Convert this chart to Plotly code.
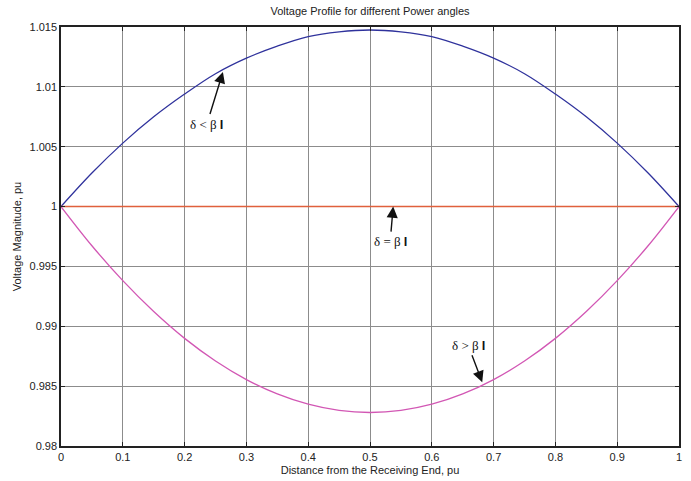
import plotly.graph_objects as go

distance = [0.0, 0.05, 0.1, 0.15, 0.2, 0.25, 0.3, 0.35, 0.4, 0.45, 0.5,
            0.55, 0.6, 0.65, 0.7, 0.75, 0.8, 0.85, 0.9, 0.95, 1.0]
v_less = [1.0, 1.0028, 1.0053, 1.0075, 1.0094, 1.0111, 1.0124, 1.0134, 1.0142, 1.0146, 1.01475,
          1.0146, 1.0142, 1.0134, 1.0124, 1.0111, 1.0094, 1.0075, 1.0053, 1.0028, 1.0]
v_equal = [1.0] * 21
v_greater = [1.0, 0.99673, 0.99381, 0.99123, 0.98899, 0.9871, 0.98555, 0.98435, 0.98349, 0.98297, 0.9828,
             0.98297, 0.98349, 0.98435, 0.98555, 0.9871, 0.98899, 0.99123, 0.99381, 0.99673, 1.0]

x_ticks = [0, 0.1, 0.2, 0.3, 0.4, 0.5, 0.6, 0.7, 0.8, 0.9, 1]
x_labels = ["0", "0.1", "0.2", "0.3", "0.4", "0.5", "0.6", "0.7", "0.8", "0.9", "1"]
y_ticks = [0.98, 0.985, 0.99, 0.995, 1.0, 1.005, 1.01, 1.015]
y_labels = ["0.98", "0.985", "0.99", "0.995", "1", "1.005", "1.01", "1.015"]

font = "Liberation Sans, Arial, sans-serif"
serif = "Liberation Serif, Times New Roman, serif"

fig = go.Figure()
fig.add_trace(go.Scatter(x=distance, y=v_less, mode="lines", line=dict(color="#2f329c", width=1.3, shape="spline")))
fig.add_trace(go.Scatter(x=distance, y=v_equal, mode="lines", line=dict(color="#e0603c", width=1.5)))
fig.add_trace(go.Scatter(x=distance, y=v_greater, mode="lines", line=dict(color="#d257b4", width=1.3, shape="spline")))

bold_l = "<span style='font-family:Liberation Sans'><b>l</b></span>"
ann = [
    ("δ &lt; β " + bold_l, 0.262, 1.01124, -16, 52),
    ("δ = β " + bold_l, 0.5375, 1.0, -3, 35),
    ("δ &gt; β " + bold_l, 0.6816, 0.98532, -14, -37),
]
annotations = []
for txt, x, y, ax, ay in ann:
    annotations.append(dict(x=x, y=y, xref="x", yref="y", text=txt, showarrow=True,
                            ax=ax, ay=ay, arrowhead=2, arrowsize=1.6, arrowwidth=1.4,
                            arrowcolor="#111111", standoff=0, startstandoff=1,
                            font=dict(family=serif, size=13, color="#111111")))

fig.update_layout(
    width=691, height=481,
    margin=dict(l=61, r=12, t=27, b=35, autoexpand=False),
    paper_bgcolor="white", plot_bgcolor="white",
    showlegend=False,
    hovermode=False,
    title=dict(text="Voltage Profile for different Power angles", x=0.5, xanchor="center",
               xref="paper", y=1 - 11 / 481, yanchor="middle", automargin=False,
               font=dict(family=font, size=11, color="#222222")),
    annotations=annotations,
    font=dict(family=font, size=11, color="#222222"),
)
axis_common = dict(showline=True, linecolor="#222222", linewidth=1.5, mirror="ticks",
                   ticks="inside", ticklen=4, tickcolor="#222222", automargin=False,
                   showgrid=True, gridcolor="#8c8c8c", gridwidth=1, zeroline=False,
                   tickfont=dict(family=font, size=11, color="#222222"))
fig.update_xaxes(range=[0, 1], tickvals=x_ticks, ticktext=x_labels,
                 title=dict(text="Distance from the Receiving End, pu", standoff=4,
                            font=dict(family=font, size=11, color="#222222")), **axis_common)
fig.update_yaxes(range=[0.98, 1.015], tickvals=y_ticks, ticktext=y_labels,
                 title=dict(text="Voltage Magnitude, pu", standoff=6,
                            font=dict(family=font, size=11, color="#222222")), **axis_common)

fig.write_html("out.html", config={"displayModeBar": False},
               post_script="document.body.style.margin='0px';")
